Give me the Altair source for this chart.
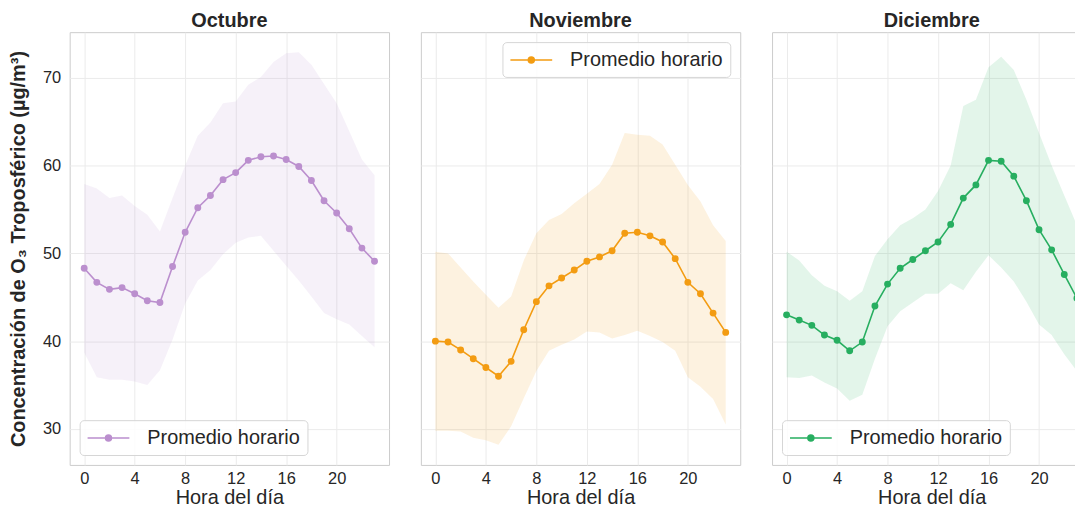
import altair as alt
import pandas as pd

# ---------------- data ----------------
hours = list(range(24))
months = ["Octubre", "Noviembre", "Diciembre"]
colors = ["#BB8FCE", "#F39C12", "#27AE60"]
series_label = "Promedio horario"
x_ticks = [0, 4, 8, 12, 16, 20]
y_ticks = [30, 40, 50, 60, 70]

oct_mean = [48.3, 46.7, 45.9, 46.1, 45.4, 44.6, 44.4, 48.5, 52.4, 55.2, 56.6, 58.4,
            59.2, 60.6, 61.0, 61.1, 60.7, 59.9, 58.3, 56.0, 54.6, 52.8, 50.6, 49.1]
oct_low = [38.7, 35.9, 35.6, 35.6, 35.4, 35.0, 36.7, 40.2, 44.3, 46.9, 48.1, 49.9,
           51.2, 51.8, 52.0, 50.3, 48.6, 46.9, 45.1, 43.2, 42.5, 41.9, 40.6, 39.3]
oct_high = [57.9, 57.4, 56.3, 56.6, 55.4, 54.4, 52.5, 56.3, 60.0, 63.4, 64.9, 67.1,
            67.3, 69.2, 70.1, 71.8, 72.8, 72.9, 71.5, 69.3, 67.1, 63.9, 60.7, 58.9]

nov_mean = [40.0, 39.9, 39.0, 38.0, 37.0, 36.0, 37.7, 41.3, 44.5, 46.3, 47.2, 48.1,
            49.1, 49.6, 50.3, 52.3, 52.4, 52.0, 51.3, 49.4, 46.7, 45.4, 43.2, 41.0]
nov_low = [29.8, 29.8, 29.7, 29.0, 28.7, 28.2, 30.3, 33.5, 36.6, 38.9, 39.6, 40.2,
           41.1, 41.0, 40.3, 40.7, 41.2, 40.6, 39.9, 38.9, 35.9, 34.8, 33.4, 30.5]
nov_high = [50.2, 50.0, 48.4, 46.8, 45.3, 43.8, 45.1, 49.2, 52.3, 53.8, 54.5, 55.7,
            56.8, 57.9, 60.1, 63.7, 63.5, 63.4, 62.4, 60.1, 57.8, 55.9, 53.2, 51.4]

dec_mean = [43.0, 42.4, 41.8, 40.7, 40.1, 38.9, 39.9, 44.0, 46.5, 48.3, 49.3, 50.3,
            51.3, 53.3, 56.3, 57.8, 60.6, 60.5, 58.8, 56.0, 52.7, 50.4, 47.6, 44.9]
dec_low = [35.9, 35.8, 36.1, 35.3, 34.6, 33.2, 33.9, 38.0, 41.7, 43.4, 44.4, 45.4,
           45.4, 46.6, 45.8, 47.9, 49.8, 48.4, 46.8, 44.5, 41.9, 40.7, 38.5, 36.6]
dec_high = [50.2, 49.2, 47.5, 46.3, 45.7, 44.6, 45.7, 49.7, 51.6, 53.2, 54.0, 55.0,
            57.1, 60.0, 66.8, 67.5, 71.2, 72.4, 70.9, 67.5, 63.7, 60.0, 56.6, 53.2]

# ---------------- style ----------------
FONT = "Liberation Sans"
TEXT = "#262626"
Y_TITLE = "Concentración de O₃ Troposférico (µg/m³)"
LEGEND_SYMBOL = ("M-1,0L3.2,0M0.8,0A0.3,0.3,0,1,1,1.4,0A0.3,0.3,0,1,1,0.8,0Z")
PANEL_W = 321
PANEL_H = 435


def panel(month, color, mean, low, high, legend_orient, show_y):
    df = pd.DataFrame({"hora": hours, "media": mean, "low": low,
                       "high": high, "serie": series_label})
    base = alt.Chart(df)
    x = alt.X("hora:Q",
              scale=alt.Scale(domain=[-1.15, 24.15], nice=False, zero=False),
              axis=alt.Axis(values=x_ticks, title="Hora del día"))
    if show_y:
        yaxis = alt.Axis(values=y_ticks, title=Y_TITLE)
    else:
        yaxis = alt.Axis(values=y_ticks, title=None, labels=False)
    yscale = alt.Scale(domain=[25.9, 75.2], nice=False, zero=False)

    band = base.mark_area(color=color, opacity=0.13).encode(
        x=x,
        y=alt.Y("low:Q", scale=yscale, axis=yaxis),
        y2="high:Q",
    )
    line = base.mark_line(color=color, strokeWidth=1.6).encode(
        x=x, y=alt.Y("media:Q", scale=yscale, axis=yaxis)
    )
    pts = base.mark_point(filled=True, size=48, opacity=1).encode(
        x=x,
        y=alt.Y("media:Q", scale=yscale, axis=yaxis),
        color=alt.Color(
            "serie:N",
            scale=alt.Scale(domain=[series_label], range=[color]),
            legend=alt.Legend(
                title=None,
                orient=legend_orient,
                offset=10,
                padding=7,
                cornerRadius=4,
                fillColor="rgba(255,255,255,0.85)",
                strokeColor="#d6d6d6",
                labelFont=FONT,
                labelFontSize=20,
                labelColor=TEXT,
                labelOffset=39,
                symbolType=LEGEND_SYMBOL,
                symbolSize=400,
                symbolStrokeColor=color,
                symbolStrokeWidth=1.5,
                symbolOpacity=1,
            ),
        ),
    )
    return alt.layer(band, line, pts).properties(
        width=PANEL_W,
        height=PANEL_H,
        title=alt.TitleParams(text=month),
    )


p1 = panel(months[0], colors[0], oct_mean, oct_low, oct_high, "bottom-left", True)
p2 = panel(months[1], colors[1], nov_mean, nov_low, nov_high, "top-right", False)
p3 = panel(months[2], colors[2], dec_mean, dec_low, dec_high, "bottom-left", False)

chart = (
    alt.hconcat(p1, p2, p3, spacing=30)
    .resolve_scale(x="independent", y="independent", color="independent")
    .properties(padding={"left": 0, "top": 1, "right": -17.5, "bottom": 0},
                background="white")
    .configure_view(stroke="#cccccc", strokeWidth=1)
    .configure_axis(
        grid=True,
        gridColor="#ebebeb",
        gridWidth=1,
        domain=False,
        ticks=False,
        labelFont=FONT,
        labelFontSize=16.5,
        labelColor=TEXT,
        titleFont=FONT,
        titleFontSize=20,
        titleColor=TEXT,
        titleFontWeight="normal",
    )
    .configure_axisX(labelPadding=5.5, titlePadding=1)
    .configure_axisY(labelPadding=9, titlePadding=14, titleFontWeight="bold")
    .configure_title(font=FONT, fontSize=20, fontWeight="bold", color=TEXT,
                     anchor="middle", offset=1.5)
)

chart.save("out.html", embed_options={"renderer": "svg", "actions": False})
